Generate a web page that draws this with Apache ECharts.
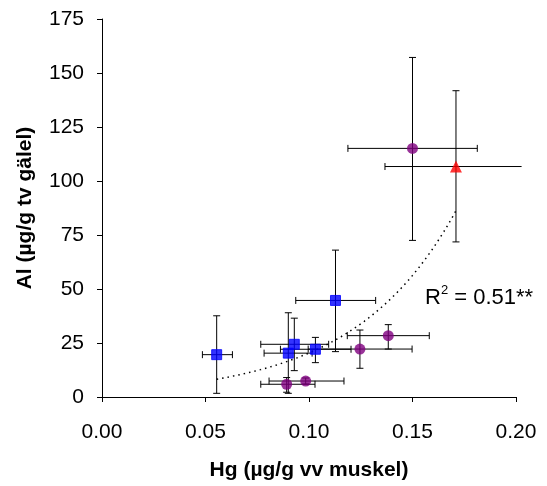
<!DOCTYPE html>
<html><head><meta charset="utf-8">
<script src="https://cdn.jsdelivr.net/npm/echarts@6/dist/echarts.min.js"></script>
<style>html,body{margin:0;padding:0;background:#fff}#c{width:547px;height:486px}</style>
</head><body><div id="c"></div>
<script>
// Blue squares: [Hg, Al, HgLow, HgHigh, AlLow, AlHigh]
const blueSquares = [
  [0.0554, 19.6, 0.0485, 0.0630, 1.7, 37.6],
  [0.0900, 20.3, 0.0783, 0.1015, 1.7, 39.0],
  [0.0929, 24.4, 0.0767, 0.1095, 12.2, 36.5],
  [0.1031, 22.1, 0.0862, 0.1203, 15.9, 27.6],
  [0.1128, 44.7, 0.0936, 0.1322, 21.0, 68.0]
];
// Purple circles
const purpleCircles = [
  [0.0892, 5.9, 0.0767, 0.1029, 2.2, 9.0],
  [0.0984, 7.4, 0.0807, 0.1169, 6.0, 8.8],
  [0.1246, 22.2, 0.0996, 0.1498, 13.3, 31.0],
  [0.1383, 28.4, 0.1185, 0.1581, 22.2, 33.5],
  [0.1500, 115.1, 0.1188, 0.1813, 72.5, 157.2]
];
// Red triangle
const redTriangles = [
  [0.1710, 106.7, 0.1367, 0.2027, 71.8, 141.8]
];
const xTicks = [0, 0.05, 0.10, 0.15, 0.20];
const yTicks = [0, 25, 50, 75, 100, 125, 150, 175];
const r2Label = '0.51**';

// exponential trendline fitted to all points (least squares on ln y)
const allPts = blueSquares.concat(purpleCircles, redTriangles);
const n = allPts.length;
let mx = 0, ml = 0;
allPts.forEach(p => { mx += p[0]; ml += Math.log(p[1]); });
mx /= n; ml /= n;
let sxy = 0, sxx = 0;
allPts.forEach(p => { sxy += (p[0]-mx)*(Math.log(p[1])-ml); sxx += (p[0]-mx)*(p[0]-mx); });
const bFit = sxy/sxx, aFit = Math.exp(ml - bFit*mx);
const xs = allPts.map(p => p[0]);
const xMin = Math.min.apply(null, xs), xMax = Math.max.apply(null, xs);
const trend = [];
for (let i = 0; i <= 60; i++) {
  const x = xMin + (xMax - xMin) * i / 60;
  trend.push([x, aFit * Math.exp(bFit * x)]);
}

const axisMax = xTicks[xTicks.length-1];
function errRender(params, api) {
  const x = api.value(0), y = api.value(1);
  const xlo = api.value(2), xhi = api.value(3), ylo = api.value(4), yhi = api.value(5);
  const c = api.coord([x, y]);
  const L = api.coord([xlo, y]), R = api.coord([xhi, y]);
  const B = api.coord([x, ylo]), T = api.coord([x, yhi]);
  const cap = 3.5;
  const st = { stroke: '#000', lineWidth: 1 };
  const ch = [
    { type: 'line', shape: { x1: L[0], y1: c[1], x2: R[0], y2: c[1] }, style: st },
    { type: 'line', shape: { x1: c[0], y1: B[1], x2: c[0], y2: T[1] }, style: st },
    { type: 'line', shape: { x1: L[0], y1: c[1]-cap, x2: L[0], y2: c[1]+cap }, style: st },
    { type: 'line', shape: { x1: c[0]-cap, y1: B[1], x2: c[0]+cap, y2: B[1] }, style: st },
    { type: 'line', shape: { x1: c[0]-cap, y1: T[1], x2: c[0]+cap, y2: T[1] }, style: st }
  ];
  if (xhi <= axisMax) ch.push({ type: 'line', shape: { x1: R[0], y1: c[1]-cap, x2: R[0], y2: c[1]+cap }, style: st });
  return { type: 'group', children: ch };
}

const font = 'Liberation Sans, Arial, sans-serif';
const chart = echarts.init(document.getElementById('c'), null, { renderer: 'canvas' });
chart.setOption({
  animation: false,
  backgroundColor: '#fff',
  grid: { left: 102, right: 31, top: 19, bottom: 89, containLabel: false },
  xAxis: {
    type: 'value', min: xTicks[0], max: axisMax, interval: 0.05,
    name: 'Hg (µg/g vv muskel)', nameLocation: 'middle', nameGap: 63,
    nameTextStyle: { fontFamily: font, fontSize: 21, fontWeight: 'bold', color: '#000' },
    axisLine: { show: true, onZero: false, lineStyle: { color: '#000', width: 1 } },
    axisTick: { show: true, inside: false, length: 5, lineStyle: { color: '#000' } },
    axisLabel: { fontFamily: font, fontSize: 21, color: '#000', margin: 25, formatter: v => v.toFixed(2) },
    splitLine: { show: false }
  },
  yAxis: {
    type: 'value', min: yTicks[0], max: yTicks[yTicks.length-1], interval: 25,
    name: 'Al (µg/g tv gälel)', nameLocation: 'middle', nameGap: 66,
    nameTextStyle: { fontFamily: font, fontSize: 21, fontWeight: 'bold', color: '#000' },
    axisLine: { show: true, onZero: false, lineStyle: { color: '#000', width: 1 } },
    axisTick: { show: true, inside: false, length: 5, lineStyle: { color: '#000' } },
    axisLabel: { fontFamily: font, fontSize: 21, color: '#000', margin: 18 },
    splitLine: { show: false }
  },
  graphic: [{
    type: 'text', left: 425, top: 284,
    style: {
      text: '{a|R}{s|2}{a| = ' + r2Label + '}',
      rich: {
        a: { fontFamily: font, fontSize: 22, fill: '#000', verticalAlign: 'bottom' },
        s: { fontFamily: font, fontSize: 13, fill: '#000', verticalAlign: 'top', padding: [0, 0, 12, 0] }
      }
    }
  }],
  series: [
    { type: 'line', data: trend, showSymbol: false, symbol: 'none', silent: true,
      lineStyle: { color: '#000', width: 1.5, type: [1.5, 4] }, z: 1 },
    { type: 'custom', renderItem: errRender, data: blueSquares, encode: { x: 0, y: 1 }, z: 2, silent: true },
    { type: 'custom', renderItem: errRender, data: purpleCircles, encode: { x: 0, y: 1 }, z: 2, silent: true },
    { type: 'custom', renderItem: errRender, data: redTriangles, encode: { x: 0, y: 1 }, z: 2, silent: true },
    { type: 'scatter', data: blueSquares.map(p => [p[0], p[1]]), symbol: 'rect', symbolSize: 10,
      itemStyle: { color: '#0000FF', borderColor: '#0000FF' }, z: 3 },
    { type: 'scatter', data: purpleCircles.map(p => [p[0], p[1]]), symbol: 'circle', symbolSize: 11,
      itemStyle: { color: '#800080' }, z: 3 },
    { type: 'scatter', data: redTriangles.map(p => [p[0], p[1]]), symbol: 'triangle', symbolSize: 12,
      itemStyle: { color: '#FF0000' }, z: 3 }
  ]
});
</script></body></html>
